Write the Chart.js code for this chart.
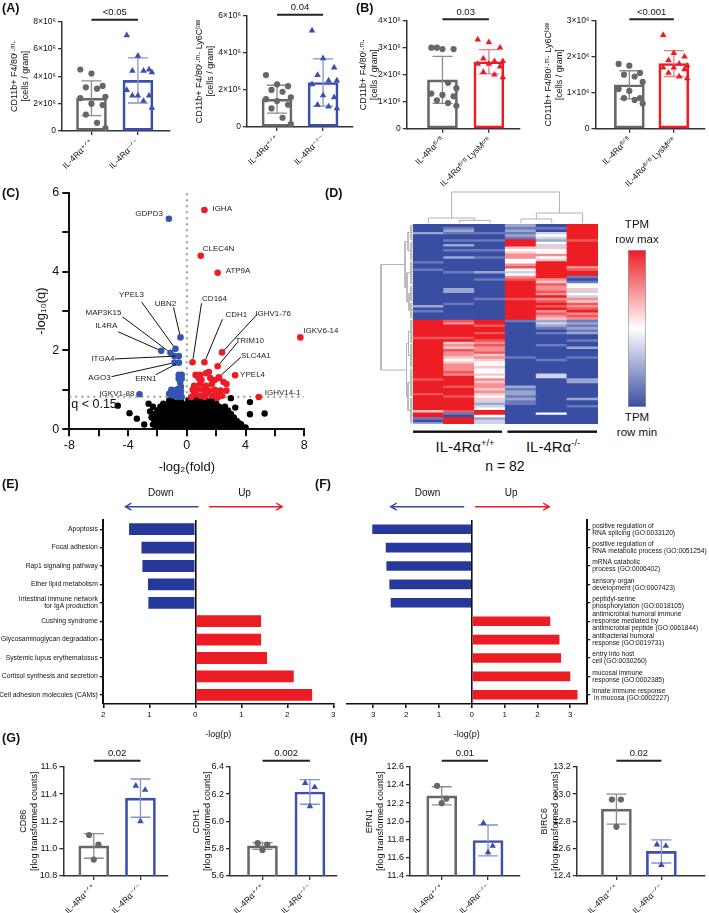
<!DOCTYPE html>
<html>
<head>
<meta charset="utf-8">
<script src="https://cdn.jsdelivr.net/npm/chart.js@4.4.1/dist/chart.umd.min.js"></script>
<style>
html,body{margin:0;padding:0;background:#fff;}
#page{position:relative;width:709px;height:913px;overflow:hidden;background:#fff;font-family:'Liberation Sans',Arial,Helvetica,sans-serif;color:#111;}
#page canvas{position:absolute;}
.t{position:absolute;white-space:nowrap;line-height:1;}
.c{transform:translate(-50%,-50%);text-align:center;}
.pl{font-weight:bold;}
sup{font-size:62%;vertical-align:0.55em;line-height:0;}
</style>
</head>
<body>
<div id="page"></div>
<script>
// ================= DATA =================
// Panel A/B group labels
const koGroups = ['IL-4Rα⁺ᐟ⁺', 'IL-4Rα⁻ᐟ⁻'];
const floxGroups = ['IL-4Rαᶠˡᐟᶠˡ', 'IL-4Rαᶠˡᐟᶠˡ LysMᶜʳᵉ'];
// Panel A left (x10^6 cells / gram)
const aTotalWt = [4.5, 4.2, 3.3, 3.2, 3.1, 2.5, 2.4, 2.0, 1.9, 1.2, 0.6, 0.2];
const aTotalKo = [7.0, 5.5, 4.5, 4.4, 4.4, 4.3, 3.0, 2.6, 2.6, 2.6, 2.2, 1.7];
const aTotalMean = [2.4, 3.7];
const aTotalSd = [1.27, 1.65];
const aTotalP = '<0.05';
// Panel A right
const aLowWt = [2.8, 2.3, 2.2, 2.0, 1.9, 1.6, 1.5, 1.4, 1.2, 1.0, 0.5, 0.15];
const aLowKo = [5.2, 3.7, 3.2, 2.8, 2.5, 2.5, 2.3, 1.7, 1.6, 1.2, 1.1, 1.0];
const aLowMean = [1.5, 2.4];
const aLowSd = [0.75, 1.27];
const aLowP = '0.04';
// Panel B left
const bTotalFl = [3.0, 2.95, 2.95, 3.0, 1.7, 1.5, 1.3, 1.25, 1.2, 1.05, 0.95, 0.85];
const bTotalCre = [3.3, 3.2, 3.0, 2.6, 2.5, 2.5, 2.4, 2.4, 2.3, 2.1, 2.0, 1.9];
const bTotalMean = [1.81, 2.48];
const bTotalSd = [0.87, 0.45];
const bTotalP = '0.03';
// Panel B right
const bLowFl = [1.8, 1.75, 1.55, 1.5, 1.45, 1.3, 1.1, 1.05, 0.85, 0.85, 0.8, 0.7];
const bLowCre = [2.6, 2.1, 2.0, 1.9, 1.8, 1.75, 1.7, 1.7, 1.65, 1.55, 1.45, 1.4];
const bLowMean = [1.22, 1.81];
const bLowSd = [0.39, 0.36];
const bLowP = '<0.001';
// Panel G / H (rlog transformed counts)
const cd86Wt = [11.1, 11.03, 10.92], cd86Ko = [11.46, 11.43, 11.2];
const cd86Mean = [11.02, 11.37], cd86Sd = [0.09, 0.14], cd86P = '0.02';
const cdh1Wt = [5.84, 5.83, 5.79], cdh1Ko = [6.28, 6.25, 6.11];
const cdh1Mean = [5.82, 6.215], cdh1Sd = [0.025, 0.09], cdh1P = '0.002';
const ern1Wt = [12.39, 12.25, 12.2], ern1Ko = [11.98, 11.73, 11.66];
const ern1Mean = [12.28, 11.79], ern1Sd = [0.1, 0.17], ern1P = '0.01';
const birc6Wt = [12.96, 12.96, 12.76], birc6Ko = [12.63, 12.62, 12.48];
const birc6Mean = [12.89, 12.58], birc6Sd = [0.11, 0.085], birc6P = '0.02';

// Panel C volcano
const qThreshold = 0.15;
const labeledGenes = ['GDPD3','IGHA','CLEC4N','ATP9A','IGKV6-14','UBN2','YPEL3','MAP3K15','IL4RA','ITGA4','AGO3','ERN1','CD164','CDH1','IGHV1-76','TRIM10','SLC4A1','YPEL4','IGHV14-1','IGKV1-88'];
const labeledFold = [-1.22, 1.2, 0.95, 2.1, 7.73, -0.43, -0.77, -1.11, -1.74, -0.54, -0.84, -0.54, 0.39, 1.2, 2.4, 2.1, 2.18, 3.29, 4.9, -3.22];
const labeledLogQ = [5.34, 5.56, 4.4, 3.97, 2.33, 2.33, 2.04, 1.94, 1.99, 1.86, 1.69, 1.69, 1.7, 1.7, 1.95, 1.6, 1.32, 1.37, 0.82, 0.89];
const downFold = [-0.84, -0.55, -0.35, -0.55, -0.35, -0.45, -0.4, -0.6, -1.05, -0.85, -0.4, -0.6, -1.2, -0.95, -0.45, -0.7, -0.35];
const downLogQ = [1.86, 1.38, 1.38, 1.28, 1.28, 1.18, 1.08, 1.02, 1.0, 0.98, 0.96, 0.9, 0.9, 0.86, 0.84, 0.82, 0.82];
const upFold = [0.6, 0.9, 1.5, 1.3, 0.8, 1.0, 1.6, 1.9, 2.2, 0.5, 0.9, 1.3, 1.7, 2.5, 2.7, 0.4, 0.7, 1.1, 1.5, 1.9, 2.3, 2.7, 0.5, 0.9, 1.3, 1.7, 2.0, 2.4, 0.3, 1.2, 2.1];
const upLogQ = [1.38, 1.38, 1.45, 1.42, 1.3, 1.25, 1.3, 1.25, 1.3, 1.1, 1.15, 1.1, 1.15, 1.2, 1.15, 1.0, 1.0, 1.0, 0.98, 1.0, 0.98, 0.98, 0.88, 0.85, 0.9, 0.85, 0.88, 0.85, 0.82, 0.82, 0.8];
const cloudRows = [
  [0.03, [-2.1,-1.7,-1.3,-0.9,-0.5,-0.1,0.3,0.7,1.1,1.5,1.9,2.3,2.7,3.1,3.5,3.9]],
  [0.12, [-2.3,-1.9,-1.5,-1.1,-0.7,-0.3,0.1,0.5,0.9,1.3,1.7,2.1,2.5,2.9,3.3,3.7]],
  [0.21, [-2.2,-1.8,-1.4,-1.0,-0.6,-0.2,0.2,0.6,1.0,1.4,1.8,2.2,2.6,3.0,3.4]],
  [0.30, [-2.4,-2.0,-1.6,-1.2,-0.8,-0.4,0.0,0.4,0.8,1.2,1.6,2.0,2.4,2.8,3.2]],
  [0.39, [-2.2,-1.8,-1.4,-1.0,-0.6,-0.2,0.2,0.6,1.0,1.4,1.8,2.2,2.6,3.0]],
  [0.48, [-2.0,-1.6,-1.2,-0.8,-0.4,0.0,0.4,0.8,1.2,1.6,2.0,2.4,2.8]],
  [0.57, [-2.3,-1.8,-1.4,-1.0,-0.6,-0.2,0.2,0.6,1.0,1.4,1.8,2.2,2.6]],
  [0.65, [-1.6,-1.2,-0.8,-0.4,0.0,0.4,0.8,1.2,1.6,2.0]],
  [0.73, [-1.2,-0.8,-0.4,0.1,0.5,0.9,1.3,1.7]],
  [0.79, [-0.9,-0.6,0.3,0.7,1.1]]
];
const cloudOutliers = [[-4.7,0.6],[-3.9,0.41],[-3.4,0.27],[-2.9,0.12],[-2.6,0.65],[-2.5,0.45],[4.3,0.69],[4.3,0.38],[5.3,0.4],[3.0,0.79],[3.3,0.55],[3.6,0.15],[4.0,0.05]];

// Panel D heatmap: level per row (0 = row min / blue, 4 = white, 8 = row max / red), 82 rows
const heatSamples = ['WT1','WT2','WT3','KO1','KO2','KO3'];
const heatCol1 = '000200000000000100100000000000000201000' + '8888888788888888888888887888887888888588102';
const heatCol2 = '012100102010020000010000002200001000000' + '7688888785657665456667688887888788888710888';
const heatCol3 = '000100100010010000020010000000100000000' + '8878878876766756544544546566565453234884233';
const heatCol4 = '212121888545664467434678888888788888888' + '1000000000000001000000000002122121100000000';
const heatCol5 = '010343243544645888888865766768678786765' + '2321010000100000100000330000000000000040000';
const heatCol6 = '888888788888888886788101445343657678676' + '1212120010020001000000002200000020010000000';
const colTree = {h:32, c:[{h:6, c:[0, {h:3.6, c:[1,2]}]}, {h:11, c:[{h:5, c:[3,4]}, 5]}]};
const rowTree = {h:32, c:[
  {h:8, c:[{h:5, c:[[0,6],[7,14]]}, {h:6, c:[[15,24], {h:4, c:[[25,31],[32,38]]}]}]},
  {h:6.5, c:[{h:4.5, c:[[39,48],[49,58]]}, {h:5, c:[[59,70],[71,81]]}]}
]};

// Panel E (KEGG) and F (GO): -log(p), negative = Down
const keggTerms = ['Apoptosis','Focal adhesion','Rap1 signaling pathway','Ether lipid metabolism',['Intestinal immune network','for IgA production'],'Cushing syndrome','Glycosaminoglycan degradation','Systemic lupus erythematosus','Cortisol synthesis and secretion','Cell adhesion molecules (CAMs)'];
const keggLogP = [-1.44, -1.17, -1.15, -1.03, -1.02, 1.43, 1.43, 1.56, 2.14, 2.54];
const goTerms = [
  ['positive regulation of','RNA splicing (GO:0033120)'],
  ['positive regulation of','RNA metabolic process (GO:0051254)'],
  ['mRNA catabolic','process (GO:0006402)'],
  ['sensory organ','development (GO:0007423)'],
  ['peptidyl-serine','phosphorylation (GO:0018105)'],
  ['antimicrobial humoral immune','response mediated by','antimicrobial peptide (GO:0061844)'],
  ['antibacterial humoral','response (GO:0019731)'],
  ['entry into host','cell (GO:0030260)'],
  ['mucosal immune','response (GO:0002385)'],
  ['innate immune response',' in mucosa (GO:0002227)']
];
const goLogP = [-3.03, -2.62, -2.6, -2.51, -2.47, 2.39, 2.67, 2.72, 3.0, 3.22];
const directionLabels = ['Down', 'Up'];

// ================= SETUP =================
const FONT = "'Liberation Sans', Arial, Helvetica, sans-serif";
const TICKFONT = "'Liberation Sans', 'DejaVu Sans', Arial, sans-serif";
Chart.defaults.font.family = FONT;
Chart.defaults.color = '#111';
Chart.defaults.animation = false;
Chart.defaults.responsive = false;
Chart.defaults.maintainAspectRatio = false;
Chart.defaults.events = [];
Chart.defaults.plugins.legend.display = false;
Chart.defaults.plugins.tooltip.enabled = false;

const GRAY = '#676767', BLUE = '#3b4eb2', RED = '#ec1c24', NAVY = '#26399a';
const GRAY_E = '#8c8c8c', BLUE_E = '#8593d0', RED_E = '#f27d80';

const page = document.getElementById('page');
function mkCanvas(x, y, w, h) {
  const c = document.createElement('canvas');
  c.width = w; c.height = h;
  c.style.left = x + 'px'; c.style.top = y + 'px';
  c.style.width = w + 'px'; c.style.height = h + 'px';
  page.appendChild(c);
  return c;
}
function addText(html, x, y, size, cls) {
  const d = document.createElement('div');
  d.className = 't ' + (cls || '');
  d.style.left = x + 'px'; d.style.top = y + 'px'; d.style.fontSize = size + 'px';
  d.innerHTML = html;
  page.appendChild(d);
  return d;
}

// ================= BAR PANELS (A, B, G, H) =================
const barDeco = {
  id: 'barDeco',
  afterDatasetDraw(chart, args, o) {
    if (args.index !== 0) return;
    const ctx = chart.ctx, x = chart.scales.x, y = chart.scales.y;
    ctx.save();
    ctx.lineWidth = 1.3;
    o.means.forEach((m, i) => {
      const px = x.getPixelForValue(i + 1);
      const yt = y.getPixelForValue(m + o.sds[i]), yb = y.getPixelForValue(m - o.sds[i]);
      ctx.strokeStyle = o.errColors[i];
      ctx.beginPath();
      ctx.moveTo(px, yb); ctx.lineTo(px, yt);
      ctx.moveTo(px - o.cap, yt); ctx.lineTo(px + o.cap, yt);
      ctx.moveTo(px - o.cap, yb); ctx.lineTo(px + o.cap, yb);
      ctx.stroke();
    });
    ctx.restore();
  },
  afterDraw(chart, args, o) {
    const ctx = chart.ctx, x = chart.scales.x;
    const x1 = x.getPixelForValue(1), x2 = x.getPixelForValue(2), yy = chart.chartArea.top - o.pDy;
    ctx.save();
    ctx.strokeStyle = '#222'; ctx.lineWidth = 2;
    ctx.beginPath(); ctx.moveTo(x1, yy); ctx.lineTo(x2, yy); ctx.stroke();
    ctx.fillStyle = '#111'; ctx.font = '9.5px ' + FONT;
    ctx.textAlign = 'center'; ctx.textBaseline = 'bottom';
    ctx.fillText(o.p, (x1 + x2) / 2, yy - 2.5);
    ctx.restore();
  }
};
const jitter = (i, n) => n <= 3 ? [-0.1, 0.1, 0][i] : [-0.24, 0, 0.24, -0.12, 0.12, 0.3][i % 6];
const fmtMil = v => v === 0 ? '0' : v + '×10⁶';
const fmtDec = v => v.toFixed(1);

function barPanel(p) {
  const cv = mkCanvas(p.cx, p.cy, p.cw, p.ch);
  const pts = (arr, c) => arr.map((v, i) => ({x: c + jitter(i, arr.length), y: v}));
  new Chart(cv, {
    type: 'bar',
    data: {datasets: [
      {type: 'bar', data: p.means.map((m, i) => ({x: i + 1, y: m})), backgroundColor: 'rgba(255,255,255,0)',
       borderColor: p.colors, borderWidth: 2, borderSkipped: false, barThickness: 30, order: 3},
      {type: 'scatter', data: pts(p.g1, 1), pointStyle: p.shapes[0], pointRadius: p.shapes[0] === 'circle' ? 3.1 : 3.8,
       backgroundColor: p.colors[0], borderWidth: 0, order: 1},
      {type: 'scatter', data: pts(p.g2, 2), pointStyle: p.shapes[1], pointRadius: p.shapes[1] === 'circle' ? 3.1 : 3.8,
       backgroundColor: p.colors[1], borderWidth: 0, order: 1}
    ]},
    options: {
      layout: {padding: {top: p.at - p.cy, right: p.cx + p.cw - p.ar, left: 0, bottom: 0}},
      plugins: {barDeco: {means: p.means, sds: p.sds, errColors: p.errColors, cap: 10, p: p.p, pDy: p.pDy}},
      scales: {
        x: {type: 'linear', min: p.xMin, max: p.xMax, offset: false,
            afterBuildTicks: s => { s.ticks = [{value: 1}, {value: 2}]; },
            afterFit: s => { s.height = p.cy + p.ch - p.ab; },
            ticks: {callback: v => p.labels[Math.round(v) - 1], minRotation: 45, maxRotation: 45, font: {size: 8.5, family: TICKFONT}, color: '#111', padding: 2, autoSkip: false},
            grid: {display: true, drawOnChartArea: false, drawTicks: true, tickLength: 4, color: '#333', tickColor: '#333', lineWidth: 1.3, offset: false},
            border: {display: true, color: '#333', width: 1.5}},
        y: {type: 'linear', min: p.yMin, max: p.yMax,
            afterFit: s => { s.width = p.al - p.cx; },
            ticks: {stepSize: p.yStep, callback: p.yFmt, font: {size: p.tickSize}, color: '#111', padding: 2},
            grid: {display: true, drawOnChartArea: false, drawTicks: true, tickLength: 4, color: '#333', tickColor: '#333', lineWidth: 1.3},
            border: {display: true, color: '#333', width: 1.5},
            title: {display: true, text: p.yTitle, font: {size: 9, lineHeight: 1.25}, padding: 0, color: '#111'}}
      }
    },
    plugins: [barDeco]
  });
}

const titleTotal = ['CD11b+ F4/80ⁱ·ᵐ·', '[cells / gram]'];
const titleLow = ['CD11b+ F4/80ⁱ·ᵐ· Ly6Cˡᵒʷ', '[cells / gram]'];
const common = {shapes: ['circle', 'triangle']};
const panels = [
  {cx: 9, cy: 0, cw: 169, ch: 185, al: 62, at: 21.7, ar: 170, ab: 131, yMin: 0, yMax: 8, yStep: 2, yFmt: fmtMil, tickSize: 8.5,
   xMin: 0.366, xMax: 2.69, labels: koGroups, means: aTotalMean, sds: aTotalSd, g1: aTotalWt, g2: aTotalKo,
   colors: [GRAY, BLUE], errColors: [GRAY_E, BLUE_E], p: aTotalP, pDy: 2, yTitle: titleTotal},
  {cx: 194, cy: 0, cw: 166, ch: 185, al: 247, at: 15.7, ar: 353, ab: 127, yMin: 0, yMax: 6, yStep: 2, yFmt: fmtMil, tickSize: 8.5,
   xMin: 0.348, xMax: 2.65, labels: koGroups, means: aLowMean, sds: aLowSd, g1: aLowWt, g2: aLowKo,
   colors: [GRAY, BLUE], errColors: [GRAY_E, BLUE_E], p: aLowP, pDy: 1, yTitle: titleLow},
  {cx: 358, cy: 0, cw: 170, ch: 190, al: 406.7, at: 20.7, ar: 520, ab: 128.7, yMin: 0, yMax: 4, yStep: 1, yFmt: fmtMil, tickSize: 8.5,
   xMin: 0.23, xMax: 2.67, labels: floxGroups, means: bTotalMean, sds: bTotalSd, g1: bTotalFl, g2: bTotalCre,
   colors: [GRAY, RED], errColors: [GRAY_E, RED_E], p: bTotalP, pDy: 1.5, yTitle: titleTotal},
  {cx: 542.5, cy: 0, cw: 166.5, ch: 190, al: 595, at: 20.7, ar: 708, ab: 128.7, yMin: 0, yMax: 3, yStep: 1, yFmt: fmtMil, tickSize: 8.5,
   xMin: 0.24, xMax: 2.7, labels: floxGroups, means: bLowMean, sds: bLowSd, g1: bLowFl, g2: bLowCre,
   colors: [GRAY, RED], errColors: [GRAY_E, RED_E], p: bLowP, pDy: 1.5, yTitle: titleLow},
  {cx: 18, cy: 740, cw: 160, ch: 173, al: 63.3, at: 766.7, ar: 168, ab: 876, yMin: 10.8, yMax: 11.6, yStep: 0.2, yFmt: fmtDec, tickSize: 9,
   xMin: 0.347, xMax: 2.59, labels: koGroups, means: cd86Mean, sds: cd86Sd, g1: cd86Wt, g2: cd86Ko,
   colors: [GRAY, BLUE], errColors: [GRAY_E, BLUE_E], p: cd86P, pDy: 6, yTitle: ['CD86', '[rlog transformed counts]']},
  {cx: 191, cy: 740, cw: 154, ch: 173, al: 230, at: 766.7, ar: 337, ab: 876, yMin: 5.6, yMax: 6.4, yStep: 0.2, yFmt: fmtDec, tickSize: 9,
   xMin: 0.316, xMax: 2.57, labels: koGroups, means: cdh1Mean, sds: cdh1Sd, g1: cdh1Wt, g2: cdh1Ko,
   colors: [GRAY, BLUE], errColors: [GRAY_E, BLUE_E], p: cdh1P, pDy: 6, yTitle: ['CDH1', '[rlog transformed counts]']},
  {cx: 364, cy: 740, cw: 164, ch: 173, al: 410, at: 766.7, ar: 520, ab: 876, yMin: 11.4, yMax: 12.6, yStep: 0.2, yFmt: fmtDec, tickSize: 9,
   xMin: 0.315, xMax: 2.69, labels: koGroups, means: ern1Mean, sds: ern1Sd, g1: ern1Wt, g2: ern1Ko,
   colors: [GRAY, BLUE], errColors: [GRAY_E, BLUE_E], p: ern1P, pDy: 6, yTitle: ['ERN1', '[rlog transformed counts]']},
  {cx: 539, cy: 740, cw: 170, ch: 173, al: 576.7, at: 766.7, ar: 708, ab: 876, yMin: 12.4, yMax: 13.2, yStep: 0.2, yFmt: fmtDec, tickSize: 9,
   xMin: 0.117, xMax: 2.97, labels: koGroups, means: birc6Mean, sds: birc6Sd, g1: birc6Wt, g2: birc6Ko,
   colors: [GRAY, BLUE], errColors: [GRAY_E, BLUE_E], p: birc6P, pDy: 6, yTitle: ['BIRC6', '[rlog transformed counts]']}
];
panels.forEach(p => barPanel(Object.assign({}, common, p)));

// ================= VOLCANO (C) =================
const qLine = -Math.log10(qThreshold);
const labelLayout = {
  'GDPD3': {a: 'right', t: [-6, -5]},
  'IGHA': {a: 'left', t: [8, -1]},
  'CLEC4N': {a: 'left', t: [2, -7]},
  'ATP9A': {a: 'left', t: [8, -2]},
  'IGKV6-14': {a: 'left', t: [3, -7]},
  'YPEL4': {a: 'left', t: [5, 0]},
  'IGHV14-1': {a: 'left', t: [6, -4]},
  'IGKV1-88': {a: 'right', t: [-5, 0]},
  'UBN2': {a: 'center', t: [-15, -34], l: [-7, -30]},
  'YPEL3': {a: 'center', t: [-44, -54], l: [-34, -47]},
  'MAP3K15': {a: 'center', t: [-67, -40], l: [-48, -36]},
  'IL4RA': {a: 'center', t: [-55, -25], l: [-43, -19]},
  'ITGA4': {a: 'center', t: [-76, 3], l: [-64, 3]},
  'AGO3': {a: 'center', t: [-75, 15], l: [-63, 14]},
  'ERN1': {a: 'center', t: [-33, 16], l: [-23, 12]},
  'CD164': {a: 'center', t: [22, -63], l: [9, -59]},
  'CDH1': {a: 'center', t: [32, -47], l: [18, -43]},
  'IGHV1-76': {a: 'center', t: [51, -39], l: [35, -38]},
  'TRIM10': {a: 'center', t: [32, -25], l: [20, -24]},
  'SLC4A1': {a: 'center', t: [37, -21], l: [22, -20]}
};
const geneLabelPlugin = {
  id: 'geneLabels',
  afterDatasetsDraw(chart) {
    const ctx = chart.ctx, x = chart.scales.x, y = chart.scales.y;
    ctx.save();
    ctx.font = '8px ' + FONT; ctx.fillStyle = '#222'; ctx.strokeStyle = '#111'; ctx.lineWidth = 1;
    ctx.textBaseline = 'middle';
    labeledGenes.forEach((g, i) => {
      const L = labelLayout[g]; if (!L) return;
      const px = x.getPixelForValue(labeledFold[i]), py = y.getPixelForValue(labeledLogQ[i]);
      ctx.textAlign = L.a;
      ctx.fillText(g, px + L.t[0], py + L.t[1]);
      if (L.l) {
        const sx = px + L.l[0], sy = py + L.l[1];
        const dx = px - sx, dy = py - sy, d = Math.hypot(dx, dy);
        ctx.beginPath(); ctx.moveTo(sx, sy); ctx.lineTo(px - dx / d * 3.5, py - dy / d * 3.5); ctx.stroke();
      }
    });
    ctx.font = '12.5px ' + FONT; ctx.textAlign = 'left'; ctx.fillStyle = '#111';
    ctx.fillText('q < ' + qThreshold, chart.chartArea.left + 2, y.getPixelForValue(qLine) + 8);
    ctx.restore();
  }
};
(function () {
  const cv = mkCanvas(34, 172, 312, 303);
  const cloud = [];
  cloudRows.forEach(([yy, xs]) => xs.forEach(xx => cloud.push({x: xx, y: yy})));
  cloudOutliers.forEach(([xx, yy]) => cloud.push({x: xx, y: yy}));
  const blue = [], red = [];
  labeledGenes.forEach((g, i) => (labeledFold[i] < 0 ? blue : red).push({x: labeledFold[i], y: labeledLogQ[i]}));
  downFold.forEach((v, i) => blue.push({x: v, y: downLogQ[i]}));
  upFold.forEach((v, i) => red.push({x: v, y: upLogQ[i]}));
  new Chart(cv, {
    type: 'scatter',
    data: {datasets: [
      {type: 'line', data: [{x: 0, y: 0}, {x: 0, y: 6}], borderColor: '#9a9a9a', borderWidth: 2, borderDash: [2, 4], pointRadius: 0, order: 6},
      {type: 'line', data: [{x: -8, y: qLine}, {x: 8, y: qLine}], borderColor: '#9a9a9a', borderWidth: 2, borderDash: [2, 4], pointRadius: 0, order: 6},
      {data: cloud, backgroundColor: '#000', pointRadius: 3.2, borderWidth: 0, order: 5},
      {data: blue, backgroundColor: '#3454b0', pointRadius: 3.3, borderWidth: 0, order: 3},
      {data: red, backgroundColor: '#ec1c24', pointRadius: 3.3, borderWidth: 0, order: 3}
    ]},
    options: {
      layout: {padding: {top: 192.7 - 172, right: 346 - 304.3, left: 0, bottom: 0}},
      scales: {
        x: {type: 'linear', min: -8, max: 8,
            afterFit: s => { s.height = 475 - 429.3; },
            ticks: {stepSize: 2, callback: v => v % 4 === 0 ? String(v) : '', font: {size: 12.5}, color: '#111', padding: 2, autoSkip: false, maxRotation: 0},
            grid: {display: true, drawOnChartArea: false, tickLength: 7, color: '#111', tickColor: '#111', lineWidth: 2},
            border: {display: true, color: '#111', width: 2},
            title: {display: true, text: '-log₂(fold)', font: {size: 13}, padding: 0, color: '#111'}},
        y: {type: 'linear', min: 0, max: 6,
            afterFit: s => { s.width = 69.3 - 34; },
            ticks: {stepSize: 1, callback: v => v % 2 === 0 ? String(v) : '', font: {size: 12.5}, color: '#111', padding: 3, autoSkip: false},
            grid: {display: true, drawOnChartArea: false, tickLength: 7, color: '#111', tickColor: '#111', lineWidth: 2},
            border: {display: true, color: '#111', width: 2},
            title: {display: true, text: '-log₁₀(q)', font: {size: 13}, padding: 0, color: '#111'}}
      }
    },
    plugins: [geneLabelPlugin]
  });
})();

// ================= HEATMAP (D) =================
const HM_BLUE = [57, 78, 163], HM_RED = [236, 30, 36], HM_WHITE = [255, 255, 255];
function lvlColor(l) {
  const mix = (a, b, t) => a.map((v, k) => Math.round(v + (b[k] - v) * t));
  const c = l <= 4 ? mix(HM_BLUE, HM_WHITE, l / 4) : mix(HM_WHITE, HM_RED, (l - 4) / 4);
  return 'rgb(' + c.join(',') + ')';
}
const heatCols = [heatCol1, heatCol2, heatCol3, heatCol4, heatCol5, heatCol6].map(s => s.padEnd(82, s[s.length - 1]).slice(0, 82));
const NROWS = 82;
(function () {
  const cv = mkCanvas(413, 224, 185, 212);
  const ds = [];
  for (let r = 0; r < NROWS; r++) {
    ds.push({data: heatCols.map(() => [r, r + 1]), backgroundColor: heatCols.map(s => lvlColor(+s[r])),
             borderWidth: 0, grouped: false, barPercentage: 1, categoryPercentage: 1, inflateAmount: 0.6});
  }
  const groupBars = {
    id: 'groupBars',
    afterDraw(chart) {
      const ctx = chart.ctx, x = chart.scales.x;
      const w = x.getPixelForValue(1) - x.getPixelForValue(0), yy = chart.chartArea.bottom + 7.7;
      ctx.save(); ctx.fillStyle = '#111';
      ctx.fillRect(x.getPixelForValue(0) - w / 2, yy - 1.2, 3 * w - 3.5, 2.4);
      ctx.fillRect(x.getPixelForValue(3) - w / 2 + 2, yy - 1.2, 3 * w - 3, 2.4);
      ctx.restore();
    }
  };
  new Chart(cv, {
    type: 'bar',
    data: {labels: heatSamples, datasets: ds},
    options: {
      layout: {padding: {top: 0, left: 0, right: 0, bottom: 12}},
      scales: {x: {display: false}, y: {display: false, min: 0, max: NROWS, reverse: true}}
    },
    plugins: [groupBars]
  });
})();

function buildTree(node, segs, leafH) {
  if (Array.isArray(node)) {
    const [a, b] = node;
    for (let r = a; r <= b; r++) segs.push([[0, r + 0.5], [leafH, r + 0.5]]);
    segs.push([[leafH, a + 0.5], [leafH, b + 0.5]]);
    return {pos: (a + b + 1) / 2, h: leafH};
  }
  if (typeof node === 'number') return {pos: node + 0.5, h: leafH};
  const kids = node.c.map(k => buildTree(k, segs, leafH));
  const ps = kids.map(k => k.pos), lo = Math.min(...ps), hi = Math.max(...ps);
  segs.push([[node.h, lo], [node.h, hi]]);
  kids.forEach(k => segs.push([[k.h, k.pos], [node.h, k.pos]]));
  return {pos: (lo + hi) / 2, h: node.h};
}
function dendro(cv, tree, leafH, rows, xOpt, yOpt) {
  const segs = [];
  buildTree(tree, segs, leafH);
  const conv = ([h, p]) => rows ? {x: h, y: p} : {x: p, y: h};
  const data = [];
  segs.forEach(([a, b]) => { data.push(conv(a), conv(b), {x: null, y: null}); });
  new Chart(cv, {
    type: 'line',
    data: {datasets: [{data, borderColor: '#b3b3b3', borderWidth: 1, pointRadius: 0, spanGaps: false, tension: 0}]},
    options: {layout: {padding: 0},
      scales: {x: Object.assign({type: 'linear', display: false}, xOpt), y: Object.assign({type: 'linear', display: false}, yOpt)}}
  });
}
dendro(mkCanvas(413, 188, 185, 36), colTree, 0.8, false, {min: 0, max: 6}, {min: 0, max: 36});
dendro(mkCanvas(368, 224, 45, 200), rowTree, 2, true, {min: 0, max: 45, reverse: true}, {min: 0, max: NROWS, reverse: true});

// colour bar
(function () {
  const cv = mkCanvas(628, 250, 18, 157);
  new Chart(cv, {
    type: 'bar',
    data: {labels: ['TPM'], datasets: [{data: [[0, 8]], borderColor: '#9a9a9a', borderWidth: 1, borderSkipped: false,
      barPercentage: 1, categoryPercentage: 1,
      backgroundColor: c => {
        const a = c.chart.chartArea; if (!a) return '#fff';
        const g = c.chart.ctx.createLinearGradient(0, a.bottom, 0, a.top);
        [0, 2, 4, 6, 8].forEach(l => g.addColorStop(l / 8, lvlColor(l)));
        return g;
      }}]},
    options: {layout: {padding: 0}, scales: {x: {display: false}, y: {display: false, min: 0, max: 8}}}
  });
})();

// ================= E & F =================
const arrowPlugin = {
  id: 'arrows',
  afterDraw(chart, args, o) {
    const ctx = chart.ctx, x = chart.scales.x, top = chart.chartArea.top;
    const ya = top - o.arrowDy, yt = top - o.textDy;
    ctx.save();
    ctx.font = '10px ' + FONT; ctx.fillStyle = '#111'; ctx.textAlign = 'center'; ctx.textBaseline = 'middle';
    ctx.fillText(directionLabels[0], x.getPixelForValue(o.downText), yt);
    ctx.fillText(directionLabels[1], x.getPixelForValue(o.upText), yt);
    const arr = (v0, v1, col) => {
      const x0 = x.getPixelForValue(v0), x1 = x.getPixelForValue(v1), d = Math.sign(x1 - x0);
      ctx.strokeStyle = col; ctx.lineWidth = 1.4;
      ctx.beginPath(); ctx.moveTo(x0, ya); ctx.lineTo(x1, ya);
      ctx.moveTo(x1 - d * 6, ya - 3.5); ctx.lineTo(x1, ya); ctx.lineTo(x1 - d * 6, ya + 3.5);
      ctx.stroke();
    };
    arr(o.down[0], o.down[1], '#3548a8');
    arr(o.up[0], o.up[1], RED);
    ctx.restore();
  }
};
function pathwayChart(o) {
  const cv = mkCanvas(o.cx, o.cy, o.cw, o.ch);
  new Chart(cv, {
    type: 'bar',
    data: {labels: o.terms, datasets: [{data: o.vals, backgroundColor: o.vals.map(v => v < 0 ? NAVY : RED), borderWidth: 0,
      barPercentage: o.bp, categoryPercentage: 1}]},
    options: {
      indexAxis: 'y',
      layout: {padding: {top: o.at - o.cy, left: o.padL, right: o.padR, bottom: 0}},
      plugins: {arrows: o.arrows},
      scales: {
        x: {type: 'linear', min: o.xMin, max: o.xMax,
            afterBuildTicks: s => { s.ticks = o.xTicks.map(v => ({value: v})); },
            afterFit: s => { s.height = o.cy + o.ch - o.ab; },
            ticks: {callback: v => String(Math.abs(v)), font: {size: 8}, color: '#111', padding: 2, maxRotation: 0},
            grid: {display: true, drawOnChartArea: true, drawTicks: true, tickLength: 4,
                   color: c => (c.tick && c.tick.value === 0) ? '#111' : 'rgba(0,0,0,0)', tickColor: '#111', lineWidth: 1.6},
            border: {display: true, color: '#111', width: 1.6},
            title: {display: true, text: '-log(p)', font: {size: 9}, padding: 0, color: '#111'}},
        y: {position: o.yPos,
            afterFit: s => { s.width = o.yW; },
            ticks: {font: {size: o.fs, lineHeight: 1.05}, color: '#111', padding: 2, autoSkip: false},
            grid: {display: true, drawOnChartArea: false, offset: false, drawTicks: true, tickLength: 3.5, color: '#111', tickColor: '#111', lineWidth: 1.3},
            border: {display: true, color: '#111', width: 2}}
      }
    },
    plugins: [arrowPlugin]
  });
}
pathwayChart({cx: 0, cy: 478, cw: 342, ch: 262, at: 520, ab: 704, padL: 0, padR: 342 - 333.3, yW: 103.3, yPos: 'left',
  terms: keggTerms, vals: keggLogP, bp: 0.64, fs: 6.8, xMin: -2, xMax: 3, xTicks: [-2, -1, 0, 1, 2, 3],
  arrows: {arrowDy: 13.3, textDy: 26.7, down: [0.07, -1.52], up: [0.3, 1.89], downText: -0.75, upText: 1.07}});
pathwayChart({cx: 345, cy: 478, cw: 364, ch: 262, at: 520, ab: 704, padL: 2, padR: 0, yW: 709 - 586.7, yPos: 'right',
  terms: goTerms, vals: goLogP, bp: 0.52, fs: 6.7, xMin: -3.8, xMax: 3.5, xTicks: [-3, -2, -1, 0, 1, 2, 3],
  arrows: {arrowDy: 13.3, textDy: 26.7, down: [-0.23, -2.47], up: [0.1, 2.36], downText: -1.35, upText: 1.2}});

// ================= TEXT =================
[['(A)', 2, 2], ['(B)', 356, 2], ['(C)', 2, 187], ['(D)', 325, 187], ['(E)', 2, 478], ['(F)', 315, 478], ['(G)', 2, 732], ['(H)', 350, 732]]
  .forEach(([s, x, y]) => addText(s, x, y, 12.5, 'pl'));
addText('TPM', 637, 225, 11.5, 'c');
addText('row max', 637, 240, 11.5, 'c');
addText('TPM', 637, 418, 11.5, 'c');
addText('row min', 637, 433, 11.5, 'c');
addText('IL-4Rα<sup>+/+</sup>', 465, 446, 15, 'c');
addText('IL-4Rα<sup>-/-</sup>', 553, 446, 15, 'c');
addText('n = 82', 505, 466, 14, 'c');
</script>
</body>
</html>
